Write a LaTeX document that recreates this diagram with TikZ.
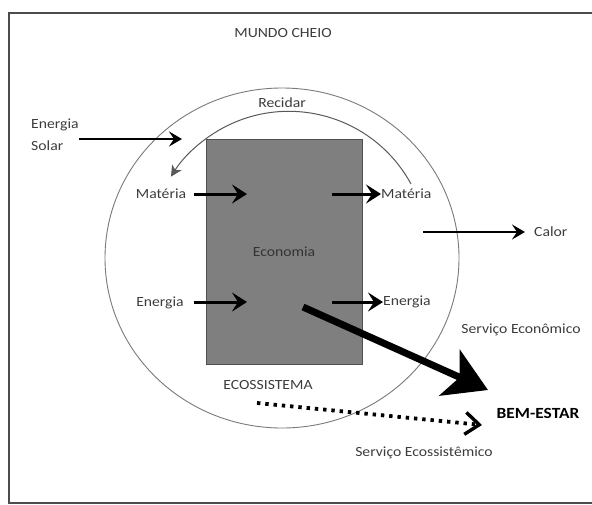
\documentclass[tikz,border=0pt]{standalone}
\usepackage{fontspec}
\setmainfont{Carlito}[FakeStretch=1.12]
\usetikzlibrary{arrows.meta}
\definecolor{txt}{HTML}{3C3C3C}
\definecolor{boxfill}{HTML}{7F7F7F}
\definecolor{boxline}{HTML}{505050}
\definecolor{ringline}{HTML}{7A7A7A}
\begin{document}
\begin{tikzpicture}[x=1pt,y=-1pt,
  lbl/.style={font=\fontsize{14}{22}\selectfont, text=txt, inner sep=0pt},
  flow/.style={line width=3pt, -{Stealth[length=15pt,width=19pt,inset=6pt]}},
  thin flow/.style={line width=2.6pt, -{Stealth[length=13pt,width=15pt,inset=5pt]}},
  ring/.style={draw=ringline, line width=0.9pt}]
\useasboundingbox (0,0) rectangle (592,504);
% frame
\draw[line width=1.2pt, draw=black!70] (600,503) -- (9,503) -- (9,13) -- (600,13);
% ecosystem ring
\draw[ring] (282,258) ellipse [x radius=177pt, y radius=170pt];
% economy box
\node[draw=boxline, fill=boxfill, line width=1pt, minimum width=156pt, minimum height=225pt,
      inner sep=0pt, font=\fontsize{14}{16}\selectfont, text=txt!85!black] (econ) at (284,251.5) {Economia};
% labels
\node[lbl] (mundo) at (283,33) {MUNDO CHEIO};
\node[lbl] (recidar) at (282,103) {Recidar};
\node[lbl, anchor=west, align=left] (esolar) at (31,135) {Energia\\Solar};
\node[lbl] (matL) at (161,194) {Matéria};
\node[lbl, anchor=west] (matR) at (381,194) {Matéria};
\node[lbl] (enL) at (160,303) {Energia};
\node[lbl, anchor=west] (enR) at (383,302) {Energia};
\node[lbl, anchor=west] (calor) at (534,232) {Calor};
\node[lbl] (servEcon) at (521,330) {Serviço Econômico};
\node[lbl] (eco) at (268,385) {ECOSSISTEMA};
\node[lbl, font=\fontsize{15.5}{18}\selectfont\bfseries, text=black] (bem) at (538,413) {BEM-ESTAR};
\node[lbl] (servEco) at (424,453) {Serviço Ecossistêmico};
% coordinates for free ends
\coordinate (solarIn) at (182,139);
\coordinate (matLin) at (247,194);
\coordinate (matRout) at (332,194);
\coordinate (enLin) at (247,302);
\coordinate (enRout) at (332,302);
\coordinate (calorOut) at (423,232);
\coordinate (calorTip) at (525,232);
\coordinate (recR) at (411,184);
\coordinate (econOut) at (303,307);
\coordinate (bemTip) at (488,390);
\coordinate (ecoOut) at (257,403);
\coordinate (ecoTip) at (482,425);
% arrows
\draw[thin flow] (esolar.east |- solarIn) -- (solarIn);
\draw[flow] (matL.east) ++(8,0) -- (matLin);
\draw[flow] (matRout) -- (matR.west);
\draw[flow] (enL.east) ++(10,-1) -- (enLin);
\draw[flow] (enRout) -- (enR.west);
\draw[thin flow] (calorOut) -- (calorTip);
\draw[draw=black!65, line width=1pt, -{Stealth[length=11pt,width=11pt,inset=3pt]}]
  (recR) arc[start angle=28.5, end angle=148, radius=139pt];
\draw[line width=7pt, -{Stealth[length=42pt,width=50pt,inset=11pt]}] (econOut) -- (bemTip);
\draw[line width=3.8pt, dash pattern=on 3.4pt off 4.9pt,
      -{Straight Barb[length=14pt,width=22pt,line width=3.4pt]}] (ecoOut) -- (ecoTip);
\end{tikzpicture}
\end{document}
